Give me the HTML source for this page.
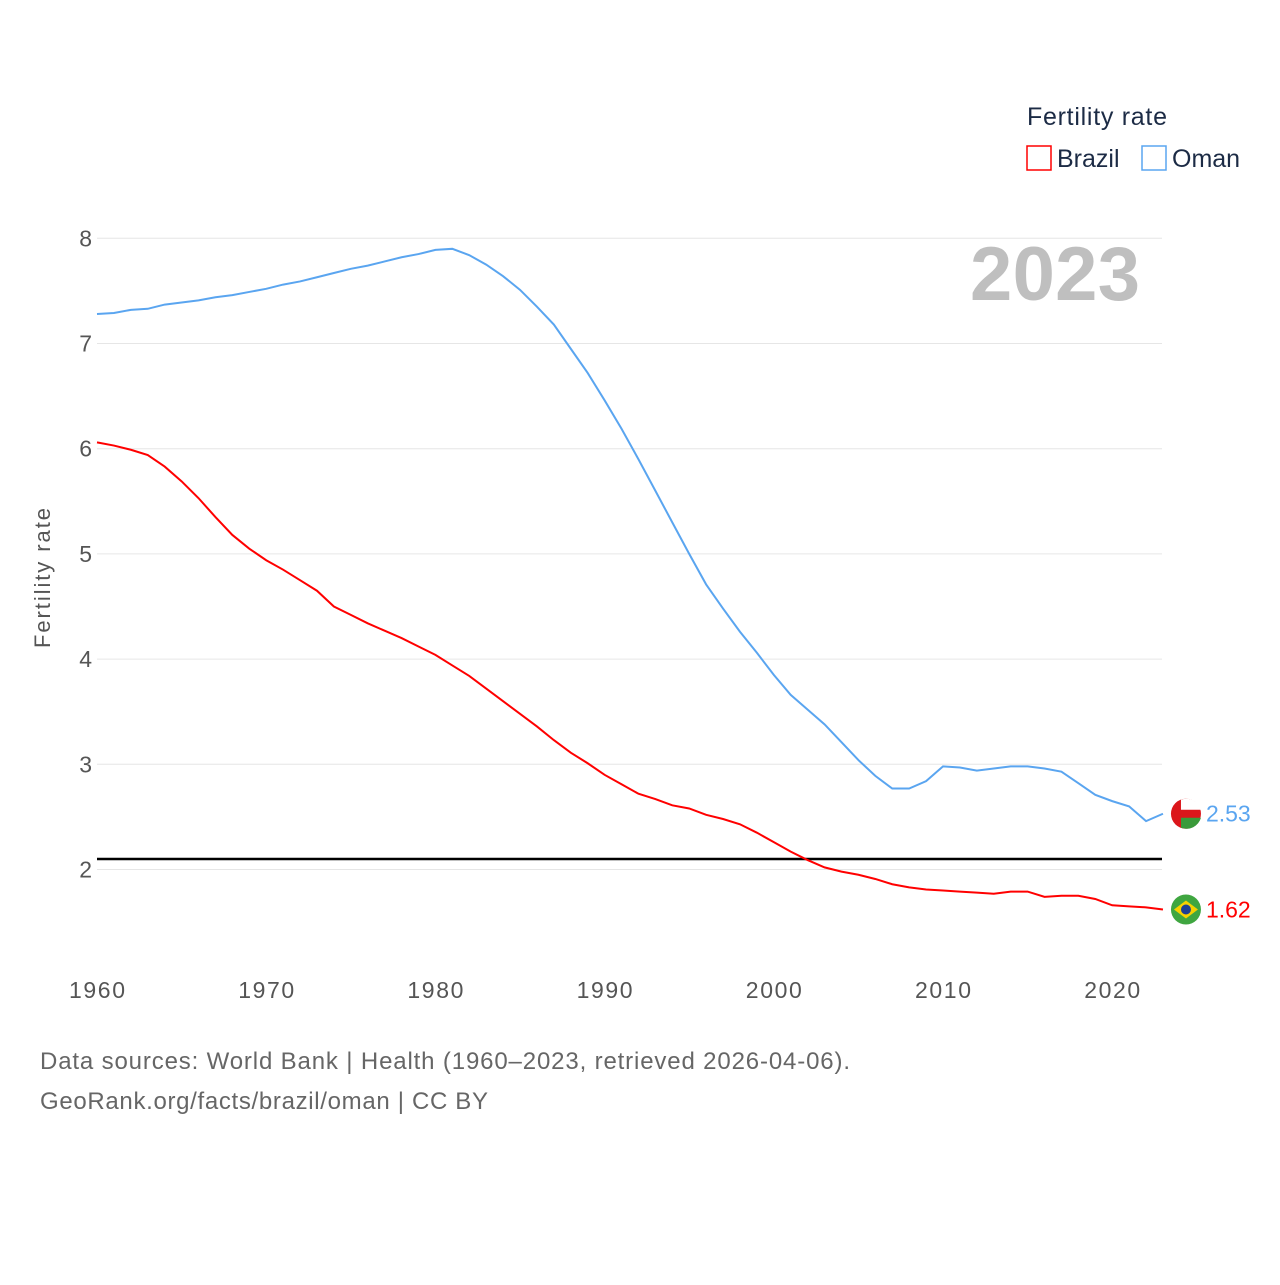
<!DOCTYPE html>
<html><head><meta charset="utf-8"><style>
body{margin:0;background:#fff;width:1280px;height:1280px;overflow:hidden;font-family:"Liberation Sans",sans-serif}
svg text{font-family:"Liberation Sans",sans-serif}
</style></head><body>
<svg id="chart" width="1280" height="1280" xmlns="http://www.w3.org/2000/svg">
<g id="grid"></g><g id="lines"></g>
<text x="1027" y="125" font-size="25" fill="#1c2b45" textLength="140">Fertility rate</text>
<g><rect x="1027" y="146" width="24" height="24" fill="none" stroke="#ff0000" stroke-width="1.5"/><text x="1057" y="167" font-size="25" fill="#1c2b45">Brazil</text></g>
<g><rect x="1142" y="146" width="24" height="24" fill="none" stroke="#5aa5f0" stroke-width="1.5"/><text x="1172" y="167" font-size="25" fill="#1c2b45">Oman</text></g>
<text x="1140" y="300" font-size="76" font-weight="bold" fill="#bfbfbf" text-anchor="end" textLength="170">2023</text>
<text transform="translate(50,578) rotate(-90)" font-size="22" fill="#555" text-anchor="middle" textLength="140">Fertility rate</text>
<text x="40" y="1069" font-size="24" fill="#666" textLength="810">Data sources: World Bank | Health (1960–2023, retrieved 2026-04-06).</text>
<text x="40" y="1109" font-size="24" fill="#666" textLength="448">GeoRank.org/facts/brazil/oman | CC BY</text>
</svg>
<script>
const years=[];for(let y=1960;y<=2023;y++)years.push(y);
const oman=[7.28,7.29,7.32,7.33,7.37,7.39,7.41,7.44,7.46,7.49,7.52,7.56,7.59,7.63,7.67,7.71,7.74,7.78,7.82,7.85,7.89,7.90,7.84,7.75,7.64,7.51,7.35,7.18,6.95,6.72,6.46,6.19,5.90,5.60,5.30,5.00,4.71,4.48,4.26,4.06,3.85,3.66,3.52,3.38,3.21,3.04,2.89,2.77,2.77,2.84,2.98,2.97,2.94,2.96,2.98,2.98,2.96,2.93,2.82,2.71,2.65,2.60,2.46,2.53];
const brazil=[6.06,6.03,5.99,5.94,5.83,5.69,5.53,5.35,5.18,5.05,4.94,4.85,4.75,4.65,4.50,4.42,4.34,4.27,4.20,4.12,4.04,3.94,3.84,3.72,3.60,3.48,3.36,3.23,3.11,3.01,2.90,2.81,2.72,2.67,2.61,2.58,2.52,2.48,2.43,2.35,2.26,2.17,2.09,2.02,1.98,1.95,1.91,1.86,1.83,1.81,1.80,1.79,1.78,1.77,1.79,1.79,1.74,1.75,1.75,1.72,1.66,1.65,1.64,1.62];
const yTicks=[2,3,4,5,6,7,8];
const xTicks=[1960,1970,1980,1990,2000,2010,2020];
const replacement=2.1;
const NS="http://www.w3.org/2000/svg";
const X=y=>97+(y-1960)*16.92;
const Y=v=>869.5-(v-2)*105.2;
function mk(t,a,p){const e=document.createElementNS(NS,t);for(const k in a)e.setAttribute(k,a[k]);p.appendChild(e);return e;}
const grid=document.getElementById('grid'),lines=document.getElementById('lines');
yTicks.forEach(v=>{const l=mk('line',{x1:97,x2:1162,y1:Y(v),y2:Y(v),stroke:'#e6e6e6','stroke-width':1},grid);


const t=mk('text',{x:92,y:Y(v)+8,'font-size':23,fill:'#555','text-anchor':'end'},grid);t.textContent=v;

});
xTicks.forEach(v=>{const t=mk('text',{x:X(v),y:998,'font-size':23,fill:'#555','text-anchor':'middle',textLength:56},grid);t.textContent=v;

});
const rl=mk('line',{x1:97,x2:1162,y1:Y(replacement),y2:Y(replacement),stroke:'#000','stroke-width':2.5},lines);


function series(d,c,n,flag){
const p=mk('polyline',{points:d.map((v,i)=>X(years[i])+','+Y(v)).join(' '),fill:'none',stroke:c,'stroke-width':2},lines);


const lx=X(2023),ly=Y(d[d.length-1]);
const g=mk('g',{},lines);


const cx=lx+23;
if(flag==='oman'){
mk('circle',{cx:cx,cy:ly,r:15,fill:'#db161b'},g);
mk('path',{d:`M${cx-5},${ly-14} A15,15 0 0 1 ${cx+15},${ly-4} L${cx-5},${ly-4} Z`,fill:'#fff'},g);
mk('path',{d:`M${cx-5},${ly+14} A15,15 0 0 0 ${cx+15},${ly+4} L${cx-5},${ly+4} Z`,fill:'#3a9a3a'},g);
}else{
mk('circle',{cx:cx,cy:ly,r:15,fill:'#3fa640'},g);
mk('polygon',{points:`${cx-12},${ly} ${cx},${ly-9} ${cx+12},${ly} ${cx},${ly+9}`,fill:'#f5d100'},g);
mk('circle',{cx:cx,cy:ly,r:5,fill:'#1b3f95'},g);
}
const t=mk('text',{x:lx+43,y:ly+8,'font-size':23,fill:c},lines);t.textContent=d[d.length-1].toFixed(2);

}
series(oman,'#5aa5f0','oman','oman');
series(brazil,'#ff0000','brazil','brazil');
</script>
</body></html>
